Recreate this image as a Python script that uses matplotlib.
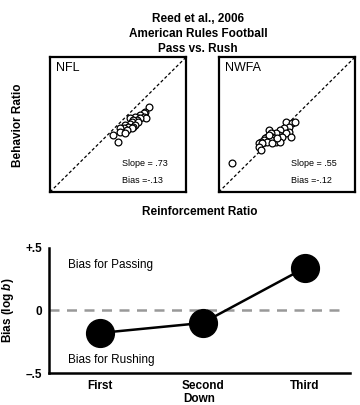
import matplotlib
matplotlib.use('Agg')
import matplotlib.pyplot as plt
import numpy as np

plt.rcParams['font.family'] = ['Liberation Sans', 'DejaVu Sans']
plt.rcParams['mathtext.fontset'] = 'custom'
plt.rcParams['mathtext.it'] = 'Liberation Sans:italic:bold'
plt.rcParams['mathtext.rm'] = 'Liberation Sans:bold'

# log reinforcement ratio (x) vs log behavior ratio (y)
nfl_x = [0.91, 0.79, 0.75, 0.65, 0.75, 0.82, 0.60, 0.50, 0.65, 0.55, 0.35, 0.45, 0.40,
         0.60, 0.35, 0.50, 0.45, 0.21, 0.30, 0.40, 0.16, 0.25, 0.06, 0.06, 0.21, -0.14, 0.01]
nfl_y = [0.51, 0.38, 0.33, 0.28, 0.23, 0.20, 0.20, 0.23, 0.18, 0.13, 0.18, 0.13, 0.08,
         0.08, 0.03, -0.01, -0.06, -0.01, -0.06, -0.11, -0.11, -0.16, -0.09, -0.21, -0.26, -0.31, -0.53]
nwfa_x = [-1.61, -0.04, 0.16, 0.24, 0.06, -0.09, -0.19, 0.06, -0.04, -0.24, -0.14, 0.11, -0.33,
          -0.53, -0.48, -0.43, -0.58, -0.38, -0.63, -0.48, -0.68, -0.77, -0.82, -0.58, -0.73,
          -0.33, -0.19, -0.82, -0.77, -0.43, -0.28, -0.53]
nwfa_y = [-1.15, 0.09, 0.04, 0.09, -0.06, -0.11, -0.16, -0.21, -0.26, -0.31, -0.36, -0.36, -0.26,
          -0.16, -0.26, -0.36, -0.36, -0.41, -0.41, -0.46, -0.46, -0.51, -0.56, -0.51, -0.56,
          -0.51, -0.51, -0.66, -0.76, -0.56, -0.41, -0.31]
panels = [('NFL', nfl_x, nfl_y, 'Slope = .73', 'Bias =-.13'),
          ('NWFA', nwfa_x, nwfa_y, 'Slope = .55', 'Bias =-.12')]

downs = ['First', 'Second', 'Third']
bias = [-0.18, -0.10, 0.34]

fig = plt.figure(figsize=(3.6, 4.05), dpi=100)

fig.text(0.55, 0.968, 'Reed et al., 2006\nAmerican Rules Football\nPass vs. Rush',
         ha='center', va='top', fontsize=8.5, fontweight='bold', linespacing=1.35)

lefts = [0.139, 0.608]
for left, (name, xs, ys, slope, bs) in zip(lefts, panels):
    ax = fig.add_axes([left, 0.526, 0.378, 0.333])
    ax.plot([-2, 2], [-2, 2], ls=(0, (2.5, 1.8)), color='black', lw=0.9)
    ax.scatter(xs, ys, s=24, facecolors='white', edgecolors='black', linewidths=0.9, zorder=3)
    ax.set_xlim(-2, 2); ax.set_ylim(-2, 2)
    ax.set_xticks([]); ax.set_yticks([])
    for sp in ax.spines.values():
        sp.set_linewidth(1.6)
    ax.text(0.045, 0.96, name, transform=ax.transAxes, ha='left', va='top', fontsize=9)
    ax.text(0.53, 0.21, slope, transform=ax.transAxes, ha='left', va='center', fontsize=6.5)
    ax.text(0.53, 0.085, bs, transform=ax.transAxes, ha='left', va='center', fontsize=6.5)

fig.text(0.05, 0.69, 'Behavior Ratio', rotation=90, ha='center', va='center',
         fontsize=8.5, fontweight='bold')
fig.text(0.555, 0.477, 'Reinforcement Ratio', ha='center', va='center',
         fontsize=8.5, fontweight='bold')

ax2 = fig.add_axes([0.136, 0.079, 0.836, 0.309])
x = np.arange(len(downs))
ax2.axhline(0, xmin=0.0, xmax=0.97, color='#999999', lw=1.8, ls=(0, (4, 3)))
ax2.plot(x, bias, color='black', lw=1.8, marker='o', markersize=20,
         markerfacecolor='black', zorder=3)
ax2.set_xlim(-0.5, 2.44)
ax2.set_ylim(-0.5, 0.5)
ax2.set_xticks(x)
ax2.set_xticklabels(downs, fontsize=8.5, fontweight='bold')
ax2.set_yticks([0.5, 0, -0.5])
ax2.set_yticklabels(['+.5', '0', '\u2013.5'], fontsize=8.5, fontweight='bold')
ax2.tick_params(length=0, pad=5)
ax2.spines['top'].set_visible(False)
ax2.spines['right'].set_visible(False)
ax2.spines['left'].set_linewidth(1.8)
ax2.spines['bottom'].set_linewidth(1.8)
ax2.text(0.063, 0.86, 'Bias for Passing', transform=ax2.transAxes, ha='left', va='center', fontsize=8.5)
ax2.text(0.063, 0.10, 'Bias for Rushing', transform=ax2.transAxes, ha='left', va='center', fontsize=8.5)
ax2.set_xlabel('Down', fontsize=8.5, fontweight='bold', labelpad=1)
fig.text(0.022, 0.235, r'Bias (log $\it{b}$)', rotation=90, ha='center', va='center',
         fontsize=8.5, fontweight='bold')

fig.savefig('out.png', dpi=100)
